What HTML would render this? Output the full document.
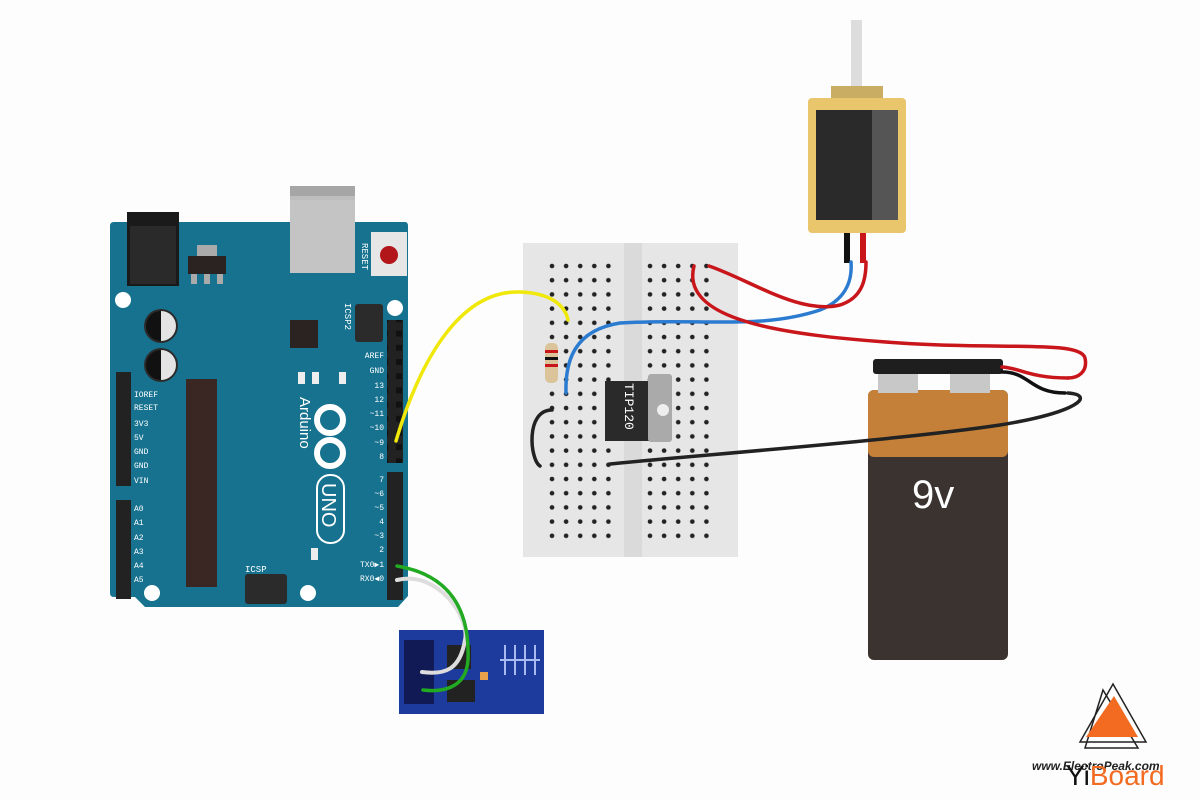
<!DOCTYPE html>
<html><head><meta charset="utf-8"><style>
html,body{margin:0;padding:0;background:#fff;}
svg{display:block;font-family:"Liberation Mono",monospace;}
</style></head><body>
<svg width="1200" height="800" viewBox="0 0 1200 800" xmlns="http://www.w3.org/2000/svg">
<defs>
<pattern id="holesL" x="549" y="263" width="14.1" height="14.2" patternUnits="userSpaceOnUse">
<circle cx="3" cy="3" r="2.3" fill="#222"/>
</pattern>
<pattern id="hdr" x="0" y="0" width="14" height="14.2" patternUnits="userSpaceOnUse">
<rect x="4" y="4" width="6" height="6" fill="#111"/>
</pattern>
</defs>
<rect width="1200" height="800" fill="#fdfdfd"/>

<!-- Arduino -->
<rect x="290" y="186" width="65" height="88" fill="#bdbdbd"/>
<rect x="290" y="186" width="65" height="10" fill="#a6a6a6"/>
<path d="M114 222 H405 Q408 222 408 226 V596 L398 607 H145 L135 597 H114 Q110 597 110 593 V226 Q110 222 114 222Z" fill="#16728f"/>
<rect x="290" y="200" width="65" height="73" fill="#c4c4c4"/>
<rect x="127" y="212" width="52" height="74" fill="#1a1a1a"/>
<rect x="130" y="226" width="46" height="58" fill="#2a2a2a"/>
<rect x="197" y="245" width="20" height="12" fill="#aaa"/>
<rect x="188" y="256" width="38" height="18" fill="#2b2322"/>
<rect x="191" y="274" width="6" height="10" fill="#aaa"/><rect x="204" y="274" width="6" height="10" fill="#aaa"/><rect x="217" y="274" width="6" height="10" fill="#aaa"/>
<rect x="371" y="232" width="36" height="44" fill="#e6e6e6"/>
<circle cx="389" cy="255" r="9" fill="#b2151a"/>
<text x="0" y="0" transform="translate(362,243) rotate(90)" font-size="9" fill="#fff">RESET</text>
<circle cx="123" cy="300" r="8" fill="#fff"/><circle cx="395" cy="308" r="8" fill="#fff"/>
<circle cx="152" cy="593" r="8" fill="#fff"/><circle cx="308" cy="593" r="8" fill="#fff"/>
<circle cx="161" cy="326" r="17" fill="#2b2b2b"/><path d="M161 311 a15 15 0 0 1 0 30Z" fill="#e4e4e4"/><path d="M161 311 a15 15 0 0 0 0 30Z" fill="#111"/>
<circle cx="161" cy="365" r="17" fill="#2b2b2b"/><path d="M161 350 a15 15 0 0 1 0 30Z" fill="#e4e4e4"/><path d="M161 350 a15 15 0 0 0 0 30Z" fill="#111"/>
<rect x="186" y="379" width="31" height="208" fill="#3a2623"/>
<rect x="290" y="320" width="28" height="28" fill="#2b2322"/>
<rect x="355" y="304" width="28" height="38" rx="3" fill="#2b2b2b"/>
<text transform="translate(345,303) rotate(90)" font-size="9" fill="#fff">ICSP2</text>
<rect x="298" y="372" width="7" height="12" fill="#eee"/><rect x="312" y="372" width="7" height="12" fill="#eee"/><rect x="339" y="372" width="7" height="12" fill="#eee"/>
<rect x="311" y="548" width="7" height="12" fill="#eee"/>
<rect x="245" y="574" width="42" height="30" rx="3" fill="#2b2b2b"/>
<text x="245" y="572" font-size="9" fill="#fff">ICSP</text>
<rect x="387" y="320" width="16" height="143" fill="#222"/><rect x="387" y="320" width="16" height="143" fill="url(#hdr)"/>
<rect x="387" y="472" width="16" height="128" fill="#222"/>
<rect x="116" y="372" width="15" height="114" fill="#222"/>
<rect x="116" y="500" width="15" height="99" fill="#222"/>
<g font-size="8" fill="#fff">
<text x="134" y="397">IOREF</text><text x="134" y="410">RESET</text><text x="134" y="426">3V3</text><text x="134" y="440">5V</text><text x="134" y="454">GND</text><text x="134" y="468">GND</text><text x="134" y="483">VIN</text>
<text x="134" y="511">A0</text><text x="134" y="525">A1</text><text x="134" y="540">A2</text><text x="134" y="554">A3</text><text x="134" y="568">A4</text><text x="134" y="582">A5</text>
<g text-anchor="end"><text x="384" y="358">AREF</text><text x="384" y="373">GND</text><text x="384" y="388">13</text><text x="384" y="402">12</text><text x="384" y="416">~11</text><text x="384" y="430">~10</text><text x="384" y="445">~9</text><text x="384" y="459">8</text>
<text x="384" y="482">7</text><text x="384" y="496">~6</text><text x="384" y="510">~5</text><text x="384" y="524">4</text><text x="384" y="538">~3</text><text x="384" y="552">2</text><text x="384" y="567">TX0▶1</text><text x="384" y="581">RX0◀0</text></g>
</g>
<text transform="translate(300,397) rotate(90)" font-size="15" fill="#fff" font-family="Liberation Sans">Arduino</text>
<circle cx="330" cy="420" r="13" fill="none" stroke="#fff" stroke-width="6"/><circle cx="330" cy="453" r="13" fill="none" stroke="#fff" stroke-width="6"/>
<rect x="317" y="475" width="27" height="68" rx="13" fill="none" stroke="#fff" stroke-width="2"/>
<text transform="translate(322,483) rotate(90)" font-size="20" fill="#fff" font-family="Liberation Sans">UNO</text>

<!-- ESP -->
<rect x="399" y="630" width="145" height="84" fill="#1d3b9c"/>
<rect x="404" y="640" width="30" height="64" fill="#111a55"/>
<rect x="447" y="645" width="24" height="24" fill="#222"/><rect x="447" y="680" width="28" height="22" fill="#222"/>
<rect x="480" y="672" width="8" height="8" fill="#e8a14a"/>
<path d="M500 660 h40 M505 645 v30 M515 645 v30 M525 645 v30 M535 645 v30" stroke="#a8b8f0" stroke-width="2"/>

<!-- Breadboard -->
<rect x="523" y="243" width="215" height="314" fill="#e6e6e6"/>
<rect x="624" y="243" width="18" height="314" fill="#dadada"/>
<rect x="546" y="260" width="70" height="284" fill="url(#holesL)"/>
<g transform="translate(98,0)"><rect x="546" y="260" width="70" height="284" fill="url(#holesL)"/></g>
<!-- TIP120 -->
<rect x="605" y="381" width="50" height="60" fill="#2a2a2a"/>
<rect x="648" y="374" width="24" height="68" rx="3" fill="#aaa"/>
<circle cx="663" cy="410" r="6" fill="#eee"/>
<text transform="translate(625,383) rotate(90)" font-size="13" fill="#fff">TIP120</text>
<!-- resistor -->
<rect x="545" y="343" width="13" height="40" rx="5" fill="#dbc49a"/>
<rect x="545" y="350" width="13" height="3" fill="#c8161b"/><rect x="545" y="357" width="13" height="3" fill="#111"/><rect x="545" y="364" width="13" height="3" fill="#c8161b"/>

<!-- Solenoid -->
<rect x="851" y="20" width="11" height="75" fill="#ddd"/>
<rect x="831" y="86" width="52" height="14" fill="#c9ad63"/>
<rect x="808" y="98" width="98" height="135" rx="4" fill="#e9c56c"/>
<rect x="816" y="110" width="82" height="110" fill="#2a2a2a"/>
<rect x="872" y="110" width="26" height="110" fill="#555"/>
<rect x="844" y="233" width="6" height="30" fill="#111"/><rect x="860" y="233" width="6" height="30" fill="#c8161b"/>

<!-- Battery -->
<rect x="868" y="390" width="140" height="270" rx="6" fill="#3a3330"/>
<rect x="868" y="390" width="140" height="67" rx="6" fill="#c48039"/>
<rect x="878" y="373" width="40" height="20" fill="#c8c8c8"/><rect x="950" y="373" width="40" height="20" fill="#c8c8c8"/>
<rect x="873" y="359" width="130" height="15" rx="3" fill="#1e1e1e"/>
<text x="912" y="508" font-size="40" fill="#fff" font-family="Liberation Sans">9v</text>

<!-- Wires -->
<g fill="none" stroke-width="3.5" stroke-linecap="round">
<path d="M396 441 C420 360 460 290 520 292 C550 293 565 305 568 320" stroke="#f0e80a"/>
<path d="M566 393 C565 360 575 330 620 323 C700 318 760 330 820 310 C850 298 852 275 851 262" stroke="#2b7bd0"/>
<path d="M709 266 C750 280 800 315 840 305 C862 298 866 280 866 262" stroke="#c8161b"/>
<path d="M694 266 C680 320 780 335 900 343 C1000 350 1080 340 1085 358 C1088 372 1078 378 1068 378" stroke="#c8161b"/>
<path d="M1002 367 C1020 368 1030 378 1068 378" stroke="#c8161b"/>
<path d="M1002 372 C1030 372 1030 393 1065 393" stroke="#111"/>
<path d="M610 464 C700 455 900 440 1000 425 C1080 412 1095 395 1068 393" stroke="#222"/>
<path d="M552 410 C525 410 530 460 540 466" stroke="#222"/>
<path d="M397 580 C440 570 470 620 465 640 C460 670 445 675 422 672" stroke="#ddd" stroke-width="4"/>
<path d="M397 566 C450 575 470 610 468 660 C466 690 440 692 423 690" stroke="#22aa22"/>
</g>

<!-- Logo -->
<path d="M1113 684 L1146 742 H1080Z" fill="none" stroke="#222" stroke-width="1.5"/>
<path d="M1103 690 L1138 748 H1085Z" fill="none" stroke="#222" stroke-width="1.5"/>
<path d="M1114 696 L1138 737 H1086Z" fill="#f26b21"/>
<text x="1032" y="770" font-size="12" font-style="italic" font-weight="bold" fill="#222" font-family="Liberation Sans">www.ElectroPeak.com</text>
<text x="1066" y="785" font-size="28" fill="#111" font-family="Liberation Sans">Yi<tspan fill="#f26b21">Board</tspan></text>
</svg>
</body></html>
